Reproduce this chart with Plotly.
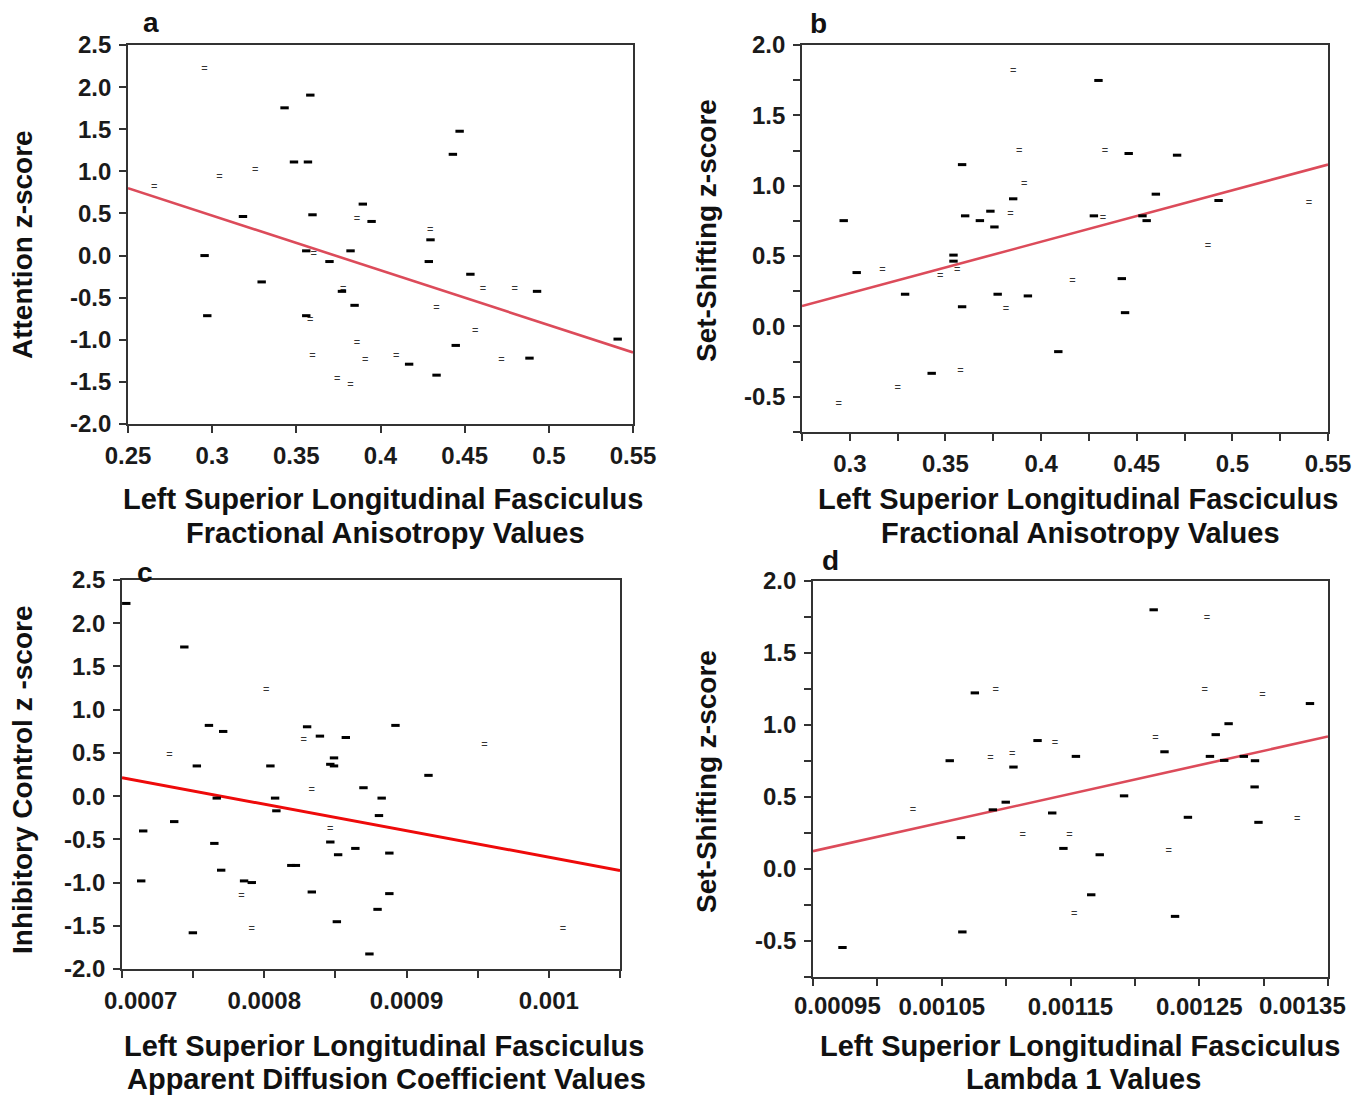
import plotly.graph_objects as go

# The page body adds an 8px margin, so the figure is drawn 8px smaller and
# every reference pixel position is shifted by that offset.
OFF = 8
W, H = 1363 - OFF, 1102 - OFF

# ---------------- Panel a ----------------
a_sx = [0.3583, 0.343, 0.447, 0.443, 0.3486, 0.3569, 0.3895, 0.3596, 0.3183, 0.3947, 0.4297, 0.2955, 0.3559,
        0.3822, 0.3697, 0.4287, 0.3294, 0.4534, 0.493, 0.3771, 0.3846, 0.2971, 0.3559, 0.5409, 0.4447, 0.4885,
        0.417, 0.4333]
a_sy = [1.905, 1.754, 1.476, 1.202, 1.111, 1.111, 0.611, 0.484, 0.464, 0.405, 0.187, 0.0, 0.056,
        0.056, -0.071, -0.071, -0.313, -0.222, -0.425, -0.425, -0.591, -0.714, -0.714, -0.992, -1.067, -1.218,
        -1.29, -1.42]
a_dx = [0.2955, 0.3256, 0.3044, 0.2656, 0.386, 0.4295, 0.3604, 0.4608, 0.4798, 0.3778, 0.4333, 0.3583, 0.4562,
        0.386, 0.3596, 0.4093, 0.3909, 0.4718, 0.3743, 0.3822]
a_dy = [2.21, 1.012, 0.933, 0.806, 0.437, 0.306, 0.02, -0.397, -0.397, -0.40, -0.623, -0.766, -0.893,
        -1.04, -1.19, -1.19, -1.246, -1.246, -1.468, -1.54]
a_fit_x = [0.25, 0.55]
a_fit_y = [0.80, -1.15]
a_xticks = [0.25, 0.3, 0.35, 0.4, 0.45, 0.5, 0.55]
a_xlabels = ["0.25", "0.3", "0.35", "0.4", "0.45", "0.5", "0.55"]
a_yticks = [-2.0, -1.5, -1.0, -0.5, 0.0, 0.5, 1.0, 1.5, 2.0, 2.5]
a_ylabels = ["-2.0", "-1.5", "-1.0", "-0.5", "0.0", "0.5", "1.0", "1.5", "2.0", "2.5"]

# ---------------- Panel b ----------------
b_sx = [0.43, 0.4458, 0.4711, 0.3587, 0.46, 0.3854, 0.4928, 0.3735, 0.3603, 0.4276, 0.368, 0.2968, 0.4552,
        0.453, 0.3756, 0.3542, 0.3542, 0.3036, 0.4422, 0.3289, 0.3773, 0.3931, 0.3587, 0.4439, 0.409, 0.3428]
b_sy = [1.748, 1.229, 1.217, 1.15, 0.94, 0.907, 0.895, 0.819, 0.786, 0.786, 0.752, 0.752, 0.752,
        0.786, 0.707, 0.507, 0.464, 0.383, 0.34, 0.229, 0.229, 0.217, 0.14, 0.098, -0.179, -0.333]
b_dx = [0.3854, 0.3886, 0.4334, 0.3912, 0.54, 0.384, 0.4323, 0.4872, 0.3561, 0.3171, 0.3473, 0.4164, 0.3816,
        0.3579, 0.3251, 0.2942]
b_dy = [1.81, 1.243, 1.243, 1.012, 0.879, 0.80, 0.767, 0.567, 0.40, 0.40, 0.355, 0.324, 0.124,
        -0.319, -0.44, -0.55]
b_fit_x = [0.275, 0.55]
b_fit_y = [0.145, 1.15]
b_xticks = [0.275, 0.3, 0.325, 0.35, 0.375, 0.4, 0.425, 0.45, 0.475, 0.5, 0.525, 0.55]
b_xlabels = ["", "0.3", "", "0.35", "", "0.4", "", "0.45", "", "0.5", "", "0.55"]
b_yticks = [-0.75, -0.5, -0.25, 0.0, 0.25, 0.5, 0.75, 1.0, 1.25, 1.5, 1.75, 2.0]
b_ylabels = ["", "-0.5", "", "0.0", "", "0.5", "", "1.0", "", "1.5", "", "2.0"]

# ---------------- Panel c ----------------
c_sx = [0.000703, 0.0007438, 0.0007611, 0.0008922, 0.0007711, 0.0008301, 0.0008391, 0.0008573, 0.000849,
        0.0008464, 0.000849, 0.0007526, 0.0008043, 0.0009154, 0.0008697, 0.0007666, 0.0008076, 0.0008825,
        0.0008085, 0.0008806, 0.0007367, 0.0007149, 0.0008464, 0.0007649, 0.000864, 0.0008879, 0.0008519,
        0.000819, 0.0008222, 0.0007697, 0.0007135, 0.0007858, 0.0007912, 0.0008334, 0.0008879, 0.0008796,
        0.000851, 0.0007498, 0.0008739]
c_sy = [2.229, 1.725, 0.818, 0.818, 0.748, 0.802, 0.694, 0.678, 0.442,
        0.368, 0.349, 0.349, 0.349, 0.24, 0.097, -0.023, -0.023, -0.023,
        -0.17, -0.225, -0.295, -0.403, -0.531, -0.547, -0.605, -0.659, -0.678,
        -0.802, -0.802, -0.857, -0.981, -0.981, -1.0, -1.109, -1.128, -1.31,
        -1.453, -1.581, -1.826]
c_dx = [0.0008014, 0.0008277, 0.0009547, 0.0007334, 0.0008334, 0.0008464, 0.0007839, 0.0007912, 0.00101]
c_dy = [1.229, 0.647, 0.593, 0.469, 0.07, -0.384, -1.155, -1.535, -1.535]
c_fit_x = [0.0007, 0.00105]
c_fit_y = [0.213, -0.86]
c_xticks = [0.0007, 0.00075, 0.0008, 0.00085, 0.0009, 0.00095, 0.001, 0.00105]
c_xlabels = ["", "", "0.0008", "", "0.0009", "", "0.001", ""]
c_edge_label = "0.0007"
c_yticks = a_yticks
c_ylabels = a_ylabels

# ---------------- Panel d ----------------
d_sx = [0.0012146, 0.0010757, 0.001336, 0.0012728, 0.0012628, 0.0011244, 0.001223, 0.0011542, 0.0012583,
        0.0010562, 0.0012694, 0.0012846, 0.0012933, 0.0011057, 0.001293, 0.0011916, 0.0010997, 0.0010897,
        0.0011358, 0.0012412, 0.001296, 0.0010649, 0.0011445, 0.0011727, 0.0011661, 0.0012312, 0.001066,
        0.0009729]
d_sy = [1.80, 1.223, 1.149, 1.009, 0.933, 0.892, 0.814, 0.782, 0.782,
        0.752, 0.754, 0.782, 0.752, 0.708, 0.57, 0.508, 0.464, 0.411,
        0.389, 0.359, 0.324, 0.218, 0.143, 0.099, -0.179, -0.329, -0.437,
        -0.545]
d_dx = [0.001256, 0.001092, 0.0012543, 0.0012991, 0.0012159, 0.0011379, 0.0011047, 0.0010878, 0.0010277,
        0.001326, 0.0011128, 0.0011492, 0.0012262, 0.0011529]
d_dy = [1.74, 1.239, 1.239, 1.207, 0.906, 0.876, 0.80, 0.766, 0.405,
        0.343, 0.234, 0.234, 0.126, -0.315]
d_fit_x = [0.00095, 0.00135]
d_fit_y = [0.124, 0.92]
d_xticks = [0.00095, 0.001, 0.00105, 0.0011, 0.00115, 0.0012, 0.00125, 0.0013, 0.00135]
d_xlabels = ["", "", "0.00105", "", "0.00115", "", "0.00125", "", ""]
d_edge_labels = ["0.00095", "0.00135"]
d_yticks = b_yticks
d_ylabels = b_ylabels

FONT = "Liberation Sans"
TICK_SIZE = 24
TITLE_SIZE = 29


def px_x(p):
    return (p - OFF) / W


def px_y(p):
    return 1 - (p - OFF) / H


panels = [
    dict(n="", sx=a_sx, sy=a_sy, dx=a_dx, dy=a_dy, fx=a_fit_x, fy=a_fit_y, lc="#dc4b5a", lw=2.6,
         xr=[0.25, 0.55], yr=[-2.0, 2.5], xt=a_xticks, xl=a_xlabels, yt=a_yticks, yl=a_ylabels, xso=2,
         dom_x=[px_x(128), px_x(633)], dom_y=[px_y(424), px_y(45)]),
    dict(n="2", sx=b_sx, sy=b_sy, dx=b_dx, dy=b_dy, fx=b_fit_x, fy=b_fit_y, lc="#dc4b5a", lw=2.6,
         xr=[0.275, 0.55], yr=[-0.75, 2.0], xt=b_xticks, xl=b_xlabels, yt=b_yticks, yl=b_ylabels, xso=2,
         dom_x=[px_x(802), px_x(1328)], dom_y=[px_y(432), px_y(45)]),
    dict(n="3", sx=c_sx, sy=c_sy, dx=c_dx, dy=c_dy, fx=c_fit_x, fy=c_fit_y, lc="#ee0a0a", lw=3.0,
         xr=[0.0007, 0.00105], yr=[-2.0, 2.5], xt=c_xticks, xl=c_xlabels, yt=c_yticks, yl=c_ylabels, xso=2,
         dom_x=[px_x(122), px_x(620)], dom_y=[px_y(969), px_y(580)]),
    dict(n="4", sx=d_sx, sy=d_sy, dx=d_dx, dy=d_dy, fx=d_fit_x, fy=d_fit_y, lc="#dc4b5a", lw=2.6,
         xr=[0.00095, 0.00135], yr=[-0.75, 2.0], xt=d_xticks, xl=d_xlabels, yt=d_yticks, yl=d_ylabels, xso=0,
         dom_x=[px_x(813), px_x(1328)], dom_y=[px_y(977), px_y(581)]),
]

fig = go.Figure()
layout = {}
tickfont = dict(family=FONT, size=TICK_SIZE, color="#1a1a1a", weight="bold")

for p in panels:
    xa = "x" + p["n"]
    ya = "y" + p["n"]
    fig.add_trace(go.Scatter(x=p["fx"], y=p["fy"], mode="lines", xaxis=xa, yaxis=ya,
                             line=dict(color=p["lc"], width=p["lw"]), showlegend=False, hoverinfo="skip"))
    fig.add_trace(go.Scatter(x=p["sx"], y=p["sy"], mode="markers", xaxis=xa, yaxis=ya,
                             marker=dict(symbol="line-ew", size=6, color="#000",
                                         line=dict(color="#000", width=3)),
                             showlegend=False))
    fig.add_trace(go.Scatter(x=p["dx"], y=p["dy"], mode="text", xaxis=xa, yaxis=ya, text=["="] * len(p["dx"]),
                             textposition="middle center",
                             textfont=dict(family=FONT, size=11, color="#333"),
                             showlegend=False))
    common = dict(showline=True, linecolor="#333", linewidth=1.6, mirror=True, ticks="outside",
                  ticklen=7, tickwidth=1.5, tickcolor="#333", showgrid=False, zeroline=False,
                  tickfont=tickfont, tickmode="array", automargin=False)
    xkey = "xaxis" + p["n"]
    ykey = "yaxis" + p["n"]
    layout[xkey] = dict(common, domain=p["dom_x"], range=p["xr"], tickvals=p["xt"], ticktext=p["xl"],
                        anchor=ya, ticklabelstandoff=p["xso"])
    layout[ykey] = dict(common, domain=p["dom_y"], range=p["yr"], tickvals=p["yt"], ticktext=p["yl"],
                        anchor=xa, ticklabelstandoff=3)

fig.update_layout(**layout)

ann = []


def txt(x, y, s, size=TITLE_SIZE, angle=0):
    ann.append(dict(xref="paper", yref="paper", x=px_x(x), y=px_y(y), text="<b>" + s + "</b>",
                    showarrow=False, xanchor="center", yanchor="middle", textangle=angle,
                    font=dict(family=FONT, size=size, color="#111")))


# x titles
txt(383, 499, "Left Superior Longitudinal Fasciculus")
txt(385, 533, "Fractional Anisotropy Values")
txt(1078, 499, "Left Superior Longitudinal Fasciculus")
txt(1080, 533, "Fractional Anisotropy Values")
txt(384, 1046, "Left Superior Longitudinal Fasciculus")
txt(386, 1079, "Apparent Diffusion Coefficient Values")
txt(1080, 1046, "Left Superior Longitudinal Fasciculus")
txt(1083, 1079, "Lambda 1 Values")
# y titles
txt(22, 245, "Attention z-score", size=28, angle=-90)
txt(706, 231, "Set-Shifting z-score", size=28, angle=-90)
txt(22, 780, "Inhibitory Control z -score", size=28, angle=-90)
txt(706, 782, "Set-Shifting z-score", size=28, angle=-90)
# panel letters
txt(151, 22, "a", size=28)
txt(818, 24, "b", size=28)
txt(145, 572, "c", size=28)
txt(830, 560, "d", size=28)

# edge tick labels (shifted inward as in the reference)
tf = dict(family=FONT, size=TICK_SIZE, color="#1a1a1a", weight="bold")
ann.append(dict(xref="x3", yref="paper", x=c_xticks[0], y=px_y(1000), text=c_edge_label,
                showarrow=False, xanchor="center", yanchor="middle", xshift=18, font=tf))
ann.append(dict(xref="x4", yref="paper", x=d_xticks[0], y=px_y(1005), text=d_edge_labels[0],
                showarrow=False, xanchor="center", yanchor="middle", xshift=25, font=tf))
ann.append(dict(xref="x4", yref="paper", x=d_xticks[-1], y=px_y(1005), text=d_edge_labels[1],
                showarrow=False, xanchor="center", yanchor="middle", xshift=-26, font=tf))

fig.update_layout(annotations=ann, width=W, height=H, margin=dict(l=0, r=0, t=0, b=0),
                  paper_bgcolor="white", plot_bgcolor="white")

fig.write_html("out.html")
